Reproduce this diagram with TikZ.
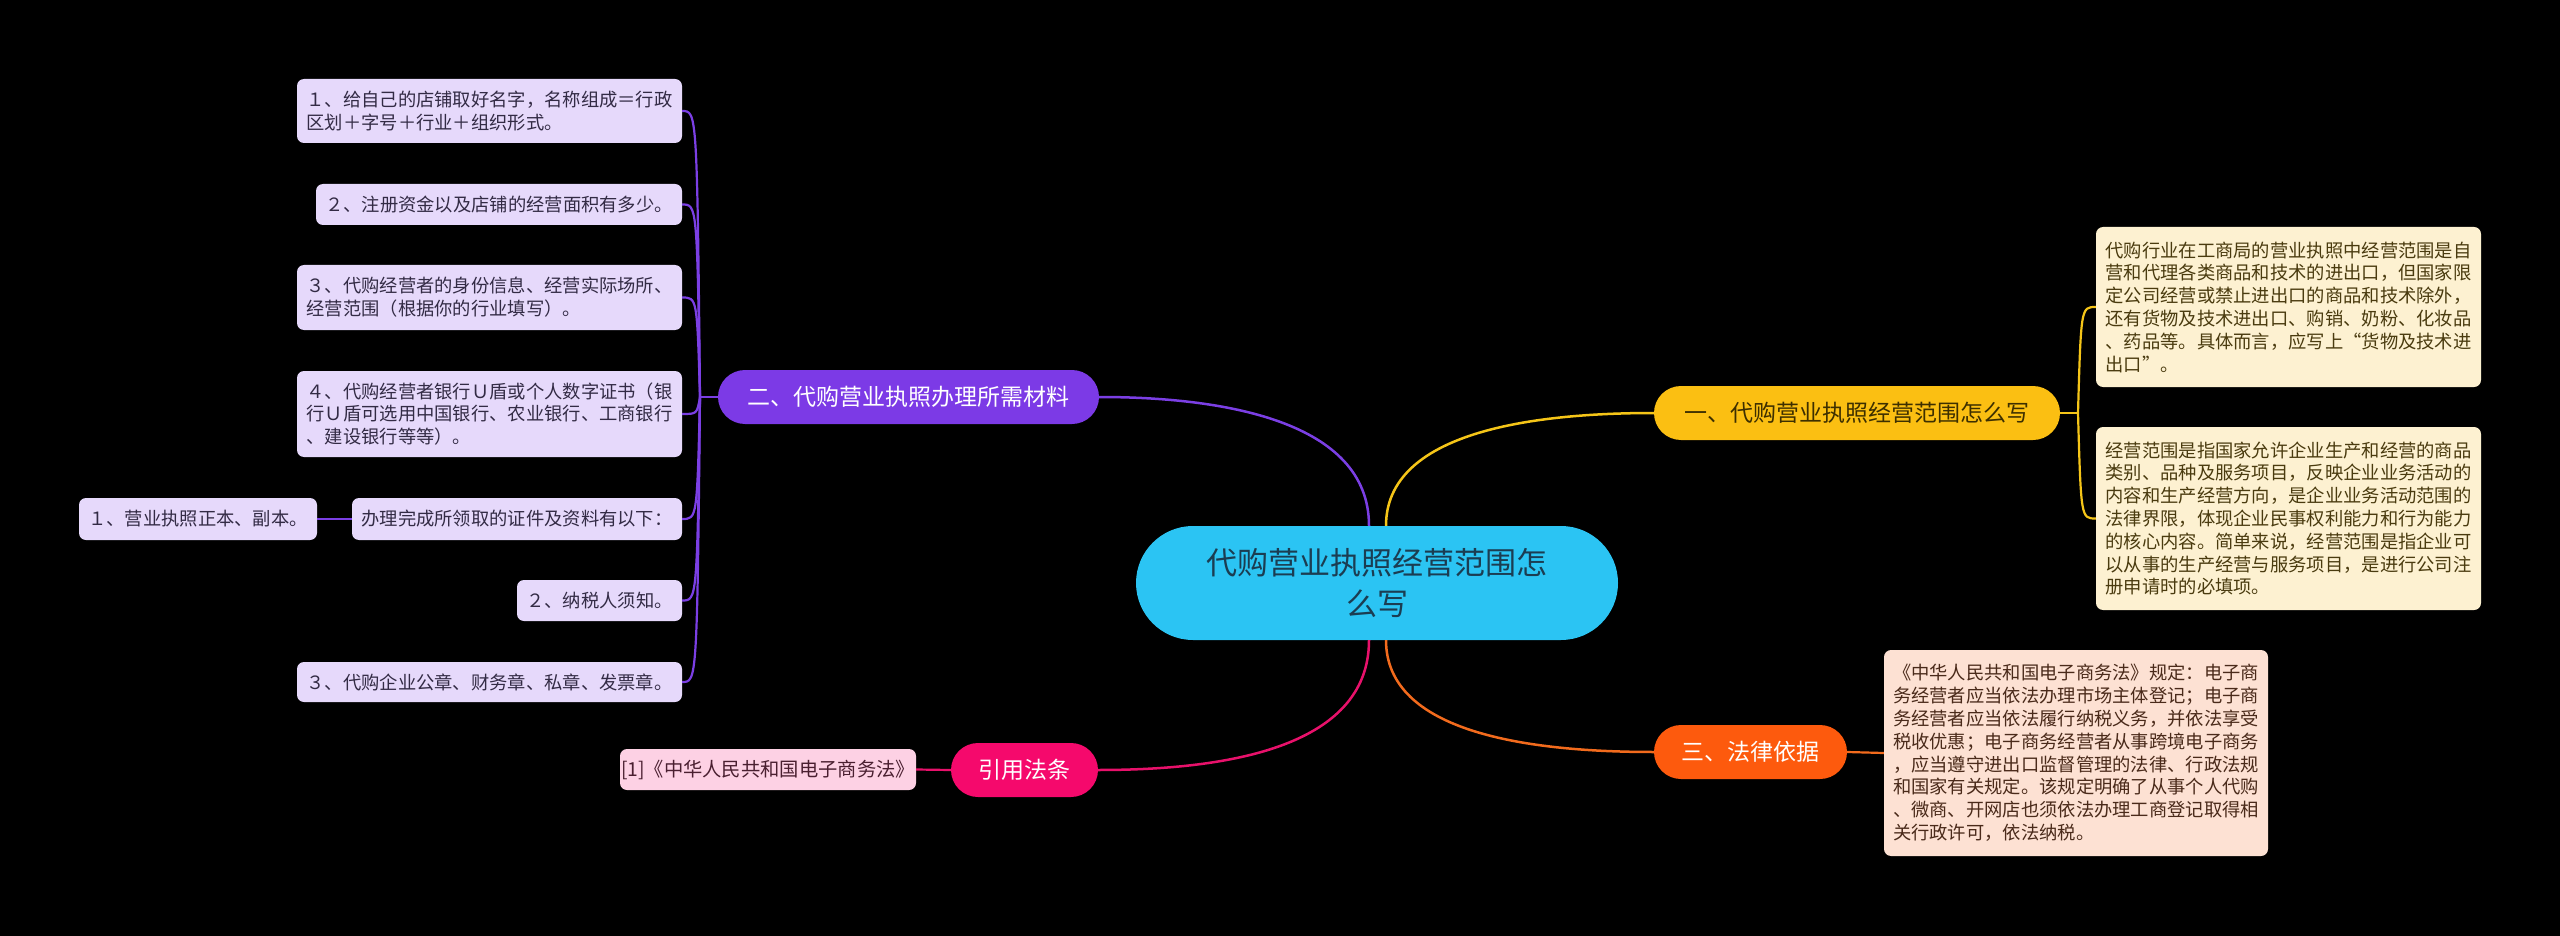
\documentclass[tikz,border=0pt]{standalone}
\usepackage{fontspec}
\usetikzlibrary{calc}
\setmainfont{Noto Sans CJK SC}
\definecolor{cyanC}{HTML}{2BC4F3}
\definecolor{cyanT}{HTML}{1B3D52}
\definecolor{yelB}{HTML}{FBBF12}
\definecolor{yelT}{HTML}{3D2F00}
\definecolor{yelL}{HTML}{FDF1D1}
\definecolor{yelLT}{HTML}{4A3B0F}
\definecolor{yelC}{HTML}{F5C518}
\definecolor{purB}{HTML}{7C3AE6}
\definecolor{purL}{HTML}{E6D9FB}
\definecolor{purLT}{HTML}{332B45}
\definecolor{purC}{HTML}{7B3FE4}
\definecolor{orB}{HTML}{FD5A0D}
\definecolor{orL}{HTML}{FDE1D3}
\definecolor{orLT}{HTML}{4A2A1A}
\definecolor{orC}{HTML}{F26B1D}
\definecolor{pkB}{HTML}{F5096C}
\definecolor{pkL}{HTML}{FDD1E4}
\definecolor{pkLT}{HTML}{4A1F30}
\definecolor{pkC}{HTML}{E8116B}
\tikzset{
  leaf/.style={rectangle, rounded corners=7pt, inner sep=0pt, align=left,
    font=\fontsize{18.3}{22.8}\selectfont},
  leafP/.style={leaf, fill=purL, text=purLT},
  leafY/.style={leaf, fill=yelL, text=yelLT},
  leafO/.style={leaf, fill=orL, text=orLT},
  leafK/.style={leaf, fill=pkL, text=pkLT, font=\fontsize{19.3}{23}\selectfont},
  branch/.style={rectangle, rounded corners=27pt, inner sep=0pt, minimum height=54pt,
    font=\fontsize{23}{28}\selectfont},
  conn/.style={line width=2.5pt},
  sconn/.style={line width=2.2pt}
}
\begin{document}
\begin{tikzpicture}[x=1pt,y=-1pt]
\fill[black] (0,0) rectangle (2560,936);
\useasboundingbox (0,0) rectangle (2560,936);

% central
\node[rectangle, rounded corners=57pt, fill=cyanC, text=cyanT, minimum width=482pt,
  minimum height=114pt, inner sep=0pt, align=center,
  font=\fontsize{31}{41}\selectfont] (c) at (1377,583) {代购营业执照经营范围怎\\么写};

% branches
\node[branch, fill=yelB, text=yelT, minimum width=406pt] (b1) at (1857,413) {一、代购营业执照经营范围怎么写};
\node[branch, fill=purB, text=white, minimum width=381pt] (b2) at (908.5,397) {二、代购营业执照办理所需材料};
\node[branch, fill=orB, text=white, minimum width=193pt] (b3) at (1750.5,752) {三、法律依据};
\node[branch, fill=pkB, text=white, minimum width=147pt] (b4) at (1024.5,770) {引用法条};

% right leaves
\node[leafY, minimum width=385pt, minimum height=160pt] (y1) at (2288.5,307) {代购行业在工商局的营业执照中经营范围是自\\营和代理各类商品和技术的进出口，但国家限\\定公司经营或禁止进出口的商品和技术除外，\\还有货物及技术进出口、购销、奶粉、化妆品\\、药品等。具体而言，应写上“货物及技术进\\出口”。};
\node[leafY, minimum width=385pt, minimum height=183pt] (y2) at (2288.5,518.5) {经营范围是指国家允许企业生产和经营的商品\\类别、品种及服务项目，反映企业业务活动的\\内容和生产经营方向，是企业业务活动范围的\\法律界限，体现企业民事权利能力和行为能力\\的核心内容。简单来说，经营范围是指企业可\\以从事的生产经营与服务项目，是进行公司注\\册申请时的必填项。};
\node[leafO, minimum width=384pt, minimum height=206pt] (o1) at (2076,753) {《中华人民共和国电子商务法》规定：电子商\\务经营者应当依法办理市场主体登记；电子商\\务经营者应当依法履行纳税义务，并依法享受\\税收优惠；电子商务经营者从事跨境电子商务\\，应当遵守进出口监督管理的法律、行政法规\\和国家有关规定。该规定明确了从事个人代购\\、微商、开网店也须依法办理工商登记取得相\\关行政许可，依法纳税。};
\node[leafK, minimum width=296pt, minimum height=41pt] (k1) at (768,769.5) {[1]《中华人民共和国电子商务法》};

% left leaves
\node[leafP, minimum width=385pt, minimum height=64pt] (p1) at (489.5,111) {１、给自己的店铺取好名字，名称组成＝行政\\区划＋字号＋行业＋组织形式。};
\node[leafP, minimum width=366pt, minimum height=41pt] (p2) at (499,204.5) {２、注册资金以及店铺的经营面积有多少。};
\node[leafP, minimum width=385pt, minimum height=65pt] (p3) at (489.5,297.5) {３、代购经营者的身份信息、经营实际场所、\\经营范围（根据你的行业填写）。};
\node[leafP, minimum width=385pt, minimum height=86pt] (p4) at (489.5,414) {４、代购经营者银行Ｕ盾或个人数字证书（银\\行Ｕ盾可选用中国银行、农业银行、工商银行\\、建设银行等等）。};
\node[leafP, minimum width=330pt, minimum height=42pt] (p5) at (517,519) {办理完成所领取的证件及资料有以下：};
\node[leafP, minimum width=238pt, minimum height=42pt] (p6) at (198,519) {１、营业执照正本、副本。};
\node[leafP, minimum width=165pt, minimum height=41pt] (p7) at (599.5,600.5) {２、纳税人须知。};
\node[leafP, minimum width=385pt, minimum height=40pt] (p8) at (489.5,682) {３、代购企业公章、财务章、私章、发票章。};

% central connectors
\draw[conn, purC] ([xshift=-8pt]c.north) .. controls +(0,-106) and +(121,0) .. (b2.east);
\draw[conn, yelC] ([xshift=9pt]c.north) .. controls +(0,-93) and +(-124,0) .. (b1.west);
\draw[conn, pkC] ([xshift=-8pt]c.south) .. controls +(0,110) and +(121,0) .. (b4.east);
\draw[conn, orC] ([xshift=9pt]c.south) .. controls +(0,93) and +(-124,0) .. (b3.west);

% left spine
\coordinate (hubL) at (700,397);
\draw[sconn, purC] (b2.west) -- (hubL);
\foreach \n in {p1,p2,p3,p4,p5,p7,p8}{
  \draw[sconn, purC] (hubL) .. controls ($(hubL |- \n.east)+(-3,0)$) and ($(hubL |- \n.east)+(-3,0)$) .. (\n.east);
}
\draw[sconn, purC] (p6.east) -- (p5.west);

% right spine
\coordinate (hubR) at (2078,413);
\draw[sconn, yelC] (b1.east) -- (hubR);
\foreach \n in {y1,y2}{
  \draw[sconn, yelC] (hubR) .. controls ($(hubR |- \n.west)+(3,0)$) and ($(hubR |- \n.west)+(3,0)$) .. (\n.west);
}

\draw[sconn, orC] (b3.east) -- (o1.west);
\draw[sconn, pkC] (k1.east) -- (b4.west);
\end{tikzpicture}
\end{document}
